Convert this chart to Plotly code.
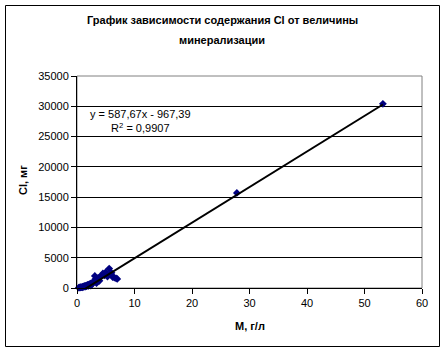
import numpy as np
import plotly.graph_objects as go

# Data (M, g/L vs Cl, mg)
m_values = [0.3, 0.5, 0.6, 0.8, 0.9, 1.0, 1.1, 1.2, 1.3, 1.4, 1.5, 1.6, 1.7, 1.8, 1.9,
            2.0, 2.1, 2.2, 2.3, 2.4, 2.5, 2.6, 2.8, 3.0, 3.1, 3.2, 3.4, 3.5, 3.7, 3.9,
            4.2, 4.5, 4.8, 5.0, 5.3, 5.6, 5.8, 6.0, 6.2, 6.5, 6.8, 7.0, 27.8, 53.2]
cl_values = [50, 80, 120, 150, 100, 200, 250, 180, 300, 350, 250, 400, 300, 500, 450,
             350, 600, 500, 700, 400, 800, 600, 900, 1100, 2000, 1500, 800, 1300, 1700, 1200,
             2000, 2400, 2100, 2600, 1900, 3200, 2300, 2500, 1800, 1700, 1600, 1500, 15700, 30400]

slope = 587.67
intercept = -967.39
r2 = 0.9907

x_ticks = [0, 10, 20, 30, 40, 50, 60]
y_ticks = [0, 5000, 10000, 15000, 20000, 25000, 30000, 35000]
y_tick_labels = ["0", "5000", "10000", "15000", "20000", "25000", "30000", "35000"]

title_line1 = "График зависимости содержания Cl от величины"
title_line2 = "минерализации"
x_title = "M, г/л"
y_title = "Cl, мг"

FONT = "Liberation Sans, Arial, sans-serif"

fig = go.Figure()

fig.add_trace(go.Scatter(
    x=m_values, y=cl_values, mode="markers",
    marker=dict(symbol="diamond", size=6, color="#000080",
                line=dict(width=0)),
    showlegend=False, cliponaxis=False,
))

x_fit = np.array([min(m_values), max(m_values)])
y_fit = slope * x_fit + intercept
fig.add_trace(go.Scatter(
    x=x_fit, y=y_fit, mode="lines",
    line=dict(color="black", width=2),
    showlegend=False,
))

eq_text = ("y = " + f"{slope:.2f}".replace(".", ",") + "x - " +
           f"{abs(intercept):.2f}".replace(".", ",") +
           "<br>R<sup>2</sup> = " + f"{r2:.4f}".replace(".", ","))

W, H = 445, 352
L, R, T, B = 77, 23, 76, 64
pw, ph = W - L - R, H - T - B

def px(xp):
    return (xp - L) / pw

def py(yp):
    return (H - B - yp) / ph

fig.update_layout(
    width=W, height=H,
    margin=dict(l=L, r=R, t=T, b=B, pad=0),
    paper_bgcolor="white", plot_bgcolor="white",
    font=dict(family=FONT, size=11, color="black"),
    xaxis=dict(range=[0, 60], tickvals=x_ticks, showgrid=False, zeroline=False,
               showline=True, linecolor="black", linewidth=1,
               ticks="outside", ticklen=5, tickcolor="black",
               tickfont=dict(size=11)),
    yaxis=dict(range=[0, 35000], tickvals=y_ticks, ticktext=y_tick_labels,
               showgrid=True, gridcolor="black",
               gridwidth=1, zeroline=False,
               showline=True, linecolor="black", linewidth=1,
               ticks="outside", ticklen=5, tickcolor="black",
               tickfont=dict(size=11)),
    shapes=[
        dict(type="rect", xref="paper", yref="paper", x0=0, x1=1, y0=0, y1=1,
             line=dict(color="#808080", width=1), layer="below"),
        dict(type="rect", xref="paper", yref="paper",
             x0=px(5.5), x1=px(439.5), y0=py(346.5), y1=py(5.5),
             line=dict(color="black", width=1)),
    ],
    annotations=[
        dict(text=f"<b>{title_line1}</b>", xref="paper", yref="paper",
             x=px(222), y=py(20), showarrow=False, xanchor="center", yanchor="middle",
             font=dict(size=11)),
        dict(text=f"<b>{title_line2}</b>", xref="paper", yref="paper",
             x=px(222), y=py(40), showarrow=False, xanchor="center", yanchor="middle",
             font=dict(size=11)),
        dict(text=f"<b>{x_title}</b>", xref="paper", yref="paper",
             x=px(250), y=py(326), showarrow=False, xanchor="center", yanchor="middle",
             font=dict(size=11)),
        dict(text=f"<b>{y_title}</b>", xref="paper", yref="paper",
             x=px(23), y=py(180), showarrow=False, xanchor="center", yanchor="middle",
             textangle=-90, font=dict(size=11)),
        dict(text=eq_text, xref="paper", yref="paper",
             x=px(140), y=py(121), showarrow=False, xanchor="center", yanchor="middle",
             align="center", font=dict(size=11)),
    ],
)

fig.write_html("out.html")
